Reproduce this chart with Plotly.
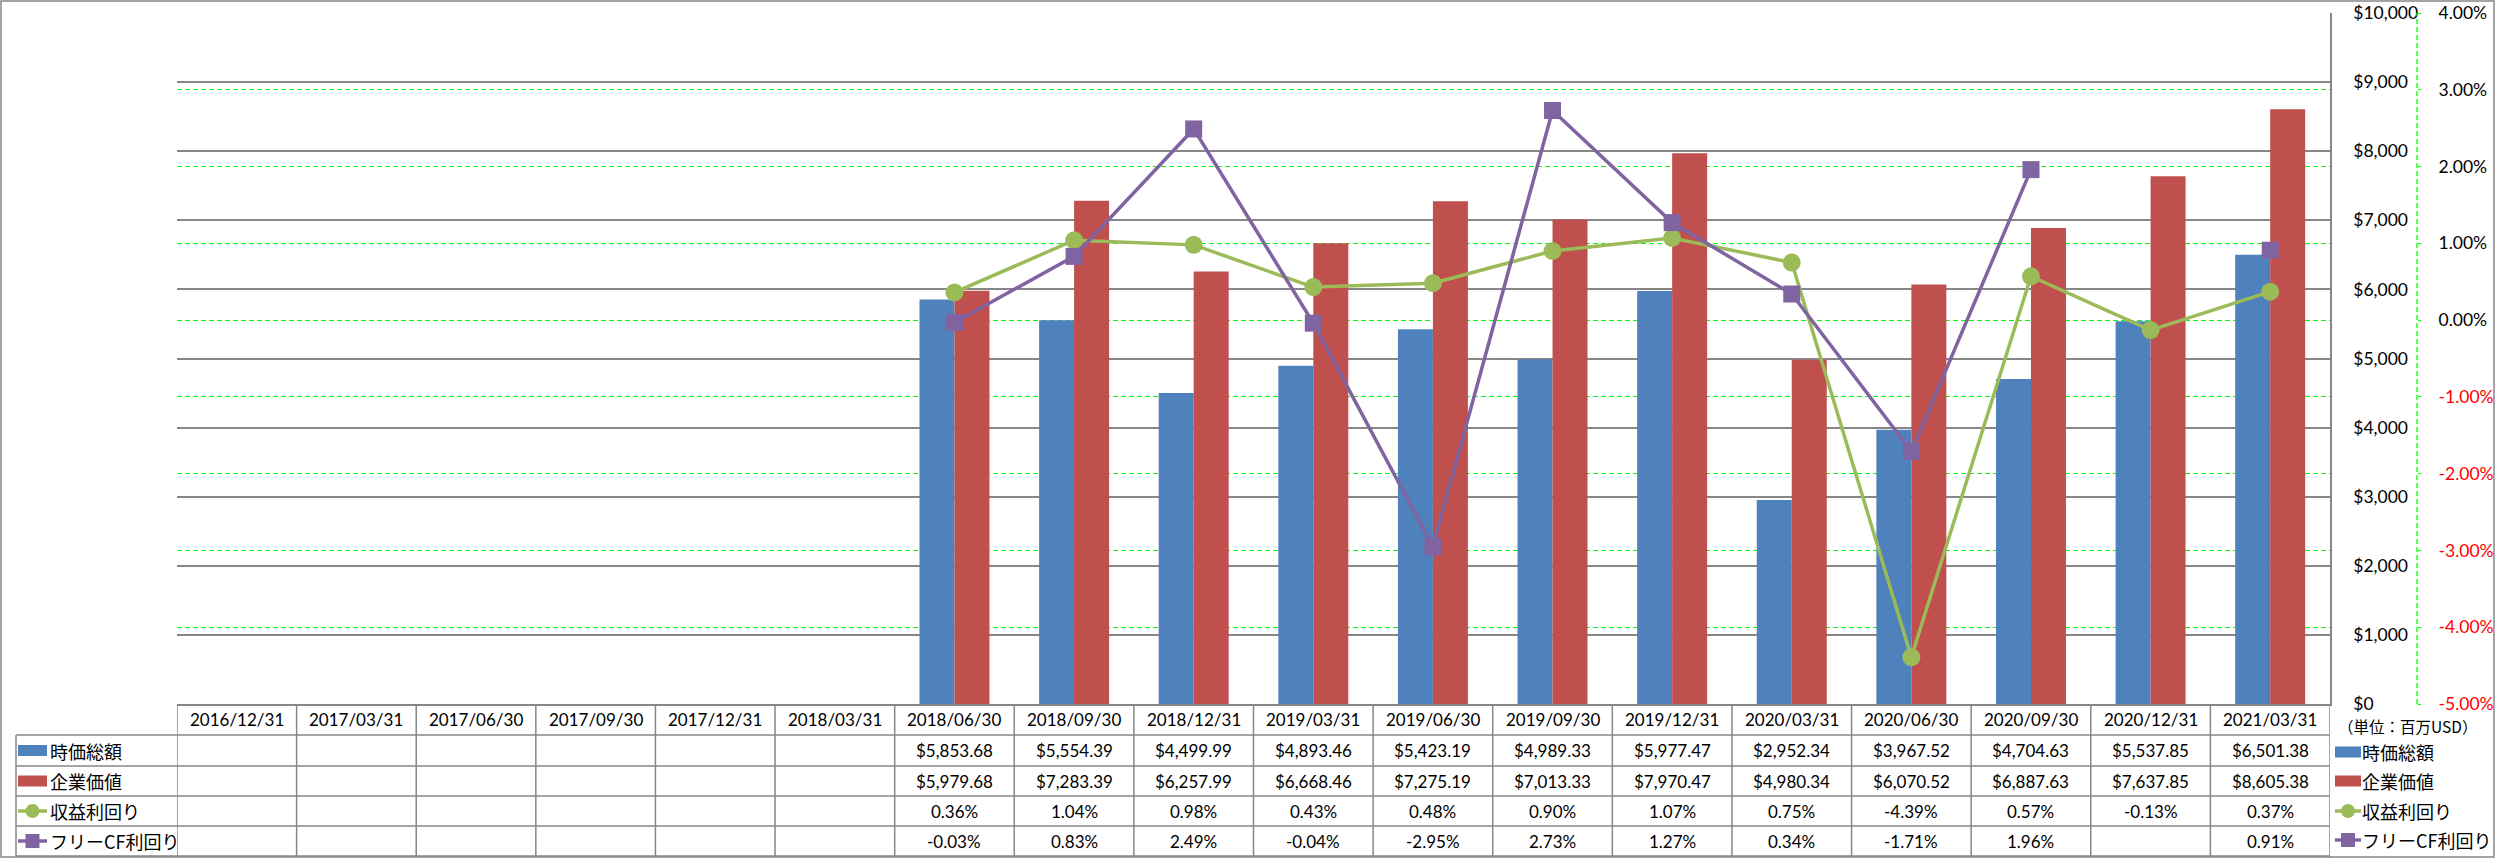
import plotly.graph_objects as go

# ---------------- data ----------------
CATEGORIES = ["2016/12/31", "2017/03/31", "2017/06/30", "2017/09/30", "2017/12/31", "2018/03/31",
              "2018/06/30", "2018/09/30", "2018/12/31", "2019/03/31", "2019/06/30", "2019/09/30",
              "2019/12/31", "2020/03/31", "2020/06/30", "2020/09/30", "2020/12/31", "2021/03/31"]
MARKET_CAP = [None, None, None, None, None, None,
              5853.68, 5554.39, 4499.99, 4893.46, 5423.19, 4989.33,
              5977.47, 2952.34, 3967.52, 4704.63, 5537.85, 6501.38]
ENTERPRISE_VALUE = [None, None, None, None, None, None,
                    5979.68, 7283.39, 6257.99, 6668.46, 7275.19, 7013.33,
                    7970.47, 4980.34, 6070.52, 6887.63, 7637.85, 8605.38]
EARNINGS_YIELD = [None, None, None, None, None, None,
                  0.36, 1.04, 0.98, 0.43, 0.48, 0.90,
                  1.07, 0.75, -4.39, 0.57, -0.13, 0.37]
FCF_YIELD = [None, None, None, None, None, None,
             -0.03, 0.83, 2.49, -0.04, -2.95, 2.73,
             1.27, 0.34, -1.71, 1.96, None, 0.91]
SERIES_NAMES = ["時価総額", "企業価値", "収益利回り", "フリーCF利回り"]
Y1_TICKS = [0, 1000, 2000, 3000, 4000, 5000, 6000, 7000, 8000, 9000, 10000]
Y2_TICKS = [-5, -4, -3, -2, -1, 0, 1, 2, 3, 4]
UNIT_LABEL = "（単位：百万USD）"

# ---------------- style ----------------
BLUE, RED, GREEN, PURPLE = "#4F81BD", "#C0504D", "#9BBB59", "#8064A2"
GRAY = "#878787"
LIME = "#00FF00"
NUM_FONT = "Lato, 'Noto Sans CJK JP', sans-serif"
JP_FONT = "'Noto Sans CJK JP', sans-serif"

W, H = 2495, 858
ML, MR, MT, MB = 177, 0, 13, 154
PW = W - ML - MR
PH = H - MT - MB
X_RIGHT_PX = 2330
XDOM_END = (X_RIGHT_PX - ML) / PW


def fx(px):
    return (px - ML) / PW


def fy(py):
    return (H - MB - py) / PH


fig = go.Figure()
fig.add_trace(go.Bar(x=CATEGORIES, y=MARKET_CAP, name=SERIES_NAMES[0],
                     marker=dict(color=BLUE, line=dict(width=0))))
fig.add_trace(go.Bar(x=CATEGORIES, y=ENTERPRISE_VALUE, name=SERIES_NAMES[1],
                     marker=dict(color=RED, line=dict(width=0))))
fig.add_trace(go.Scatter(x=CATEGORIES, y=EARNINGS_YIELD, name=SERIES_NAMES[2], yaxis="y2",
                         mode="lines+markers", connectgaps=False, cliponaxis=False,
                         line=dict(color=GREEN, width=3.5),
                         marker=dict(symbol="circle", size=18, color=GREEN, line=dict(width=0))))
fig.add_trace(go.Scatter(x=CATEGORIES, y=FCF_YIELD, name=SERIES_NAMES[3], yaxis="y2",
                         mode="lines+markers", connectgaps=False, cliponaxis=False,
                         line=dict(color=PURPLE, width=3.5),
                         marker=dict(symbol="square", size=17, color=PURPLE, line=dict(width=0))))


def pct_label(v):
    s = f"{v:.2f}%"
    if v < 0:
        return f"<span style='color:#FF0000'>{s}</span>"
    return s


fig.update_layout(
    width=W, height=H,
    margin=dict(l=ML, r=MR, t=MT, b=MB, autoexpand=False),
    plot_bgcolor="white", paper_bgcolor="white",
    barmode="group", bargap=0.415, bargroupgap=0,
    showlegend=False,
    font=dict(family=NUM_FONT, size=17, color="black"),
    xaxis=dict(type="category", categoryorder="array", categoryarray=CATEGORIES,
               range=[-0.5, len(CATEGORIES) - 0.5], domain=[0, XDOM_END],
               showticklabels=False, ticks="", showgrid=False, zeroline=False,
               showline=True, linecolor=GRAY, linewidth=1.5),
    yaxis=dict(range=[0, 10000], side="right", tickvals=Y1_TICKS, tickformat="$,.0f",
               showgrid=True, gridcolor=GRAY, gridwidth=1.5, zeroline=False,
               showline=True, linecolor=GRAY, linewidth=1.5, ticks="",
               ticklabelstandoff=18,
               tickfont=dict(family=NUM_FONT, size=17.5, color="black")),
    yaxis2=dict(overlaying="y", side="right", anchor="free", position=fx(2417),
                range=[-5, 4], tickvals=Y2_TICKS, ticktext=[pct_label(v) for v in Y2_TICKS],
                showgrid=True, gridcolor=LIME, gridwidth=1.3, griddash="5px,3px",
                zeroline=False, showline=False, ticks="outside", ticklen=3, tickcolor=LIME,
                ticklabelstandoff=14,
                tickfont=dict(family=NUM_FONT, size=17.5, color="black")),
)

shapes = []
annotations = []

# secondary axis line (dashed)
shapes.append(dict(type="line", xref="paper", yref="paper", x0=fx(2417), x1=fx(2417), y0=0, y1=1,
                   line=dict(color=LIME, width=1.3, dash="5px,3px")))

# outer border
shapes.append(dict(type="rect", xref="paper", yref="paper", x0=fx(1), x1=fx(W - 1), y0=fy(1), y1=fy(H - 1),
                   line=dict(color=GRAY, width=1.5)))

# data table grid
ROW_EDGES = [704, 735, 766, 796, 826, 856]
for ypx in ROW_EDGES[1:]:
    shapes.append(dict(type="line", xref="paper", yref="paper", x0=fx(16), x1=XDOM_END, y0=fy(ypx), y1=fy(ypx),
                       line=dict(color=GRAY, width=1.5)))
shapes.append(dict(type="line", xref="paper", yref="paper", x0=fx(16), x1=fx(16), y0=fy(735), y1=fy(856),
                   line=dict(color=GRAY, width=1.5)))
for i in range(len(CATEGORIES) + 1):
    shapes.append(dict(type="line", xref="x", yref="paper", x0=i - 0.5, x1=i - 0.5, y0=fy(704), y1=fy(856),
                       line=dict(color=GRAY, width=1.5)))

HEADER_Y = 719.5
ROW_Y = [750.5, 781, 811, 841]

rows_text = [
    [("" if v is None else f"${v:,.2f}") for v in MARKET_CAP],
    [("" if v is None else f"${v:,.2f}") for v in ENTERPRISE_VALUE],
    [("" if v is None else f"{v:.2f}%") for v in EARNINGS_YIELD],
    [("" if v is None else f"{v:.2f}%") for v in FCF_YIELD],
]
for i, cat in enumerate(CATEGORIES):
    annotations.append(dict(xref="x", yref="paper", x=cat, y=fy(HEADER_Y), text=cat, showarrow=False,
                            xanchor="center", yanchor="middle",
                            font=dict(family=NUM_FONT, size=17, color="black")))
    for r, row in enumerate(rows_text):
        if row[i]:
            annotations.append(dict(xref="x", yref="paper", x=cat, y=fy(ROW_Y[r]), text=row[i],
                                    showarrow=False, xanchor="center", yanchor="middle",
                                    font=dict(family=NUM_FONT, size=17, color="black")))

KEY_STYLE = [("bar", BLUE, None), ("bar", RED, None), ("line", GREEN, "circle"), ("line", PURPLE, "square")]


def add_key(x0, x1, ycen, kind, color, marker):
    if kind == "bar":
        shapes.append(dict(type="rect", xref="paper", yref="paper", x0=fx(x0), x1=fx(x1),
                           y0=fy(ycen + 5.5), y1=fy(ycen - 5.5), fillcolor=color, line=dict(width=0)))
    else:
        shapes.append(dict(type="line", xref="paper", yref="paper", x0=fx(x0), x1=fx(x1),
                           y0=fy(ycen), y1=fy(ycen), line=dict(color=color, width=3.5)))
        cx = (x0 + x1) / 2
        rr = 7
        shapes.append(dict(type="circle" if marker == "circle" else "rect", xref="paper", yref="paper",
                           x0=fx(cx - rr), x1=fx(cx + rr), y0=fy(ycen + rr), y1=fy(ycen - rr),
                           fillcolor=color, line=dict(width=0)))


# left legend keys inside the data table
for r, (kind, color, marker) in enumerate(KEY_STYLE):
    add_key(18, 47, ROW_Y[r], kind, color, marker)
    annotations.append(dict(xref="paper", yref="paper", x=fx(48), y=fy(ROW_Y[r]), text=SERIES_NAMES[r],
                            showarrow=False, xanchor="left", yanchor="middle",
                            font=dict(family=JP_FONT, size=18, color="black")))

# right legend
RIGHT_LEG_Y = [752, 781, 811, 840]
for r, (kind, color, marker) in enumerate(KEY_STYLE):
    add_key(2335, 2361, RIGHT_LEG_Y[r], kind, color, marker)
    annotations.append(dict(xref="paper", yref="paper", x=fx(2360), y=fy(RIGHT_LEG_Y[r]), text=SERIES_NAMES[r],
                            showarrow=False, xanchor="left", yanchor="middle",
                            font=dict(family=JP_FONT, size=18, color="black")))

annotations.append(dict(xref="paper", yref="paper", x=fx(2336), y=fy(726), text=UNIT_LABEL,
                        showarrow=False, xanchor="left", yanchor="middle",
                        font=dict(family=JP_FONT, size=15.5, color="black")))

fig.update_layout(shapes=shapes, annotations=annotations)

fig.write_html("out.html", config={"displayModeBar": False},
               post_script="document.body.style.margin='0';document.body.style.overflow='hidden';")
